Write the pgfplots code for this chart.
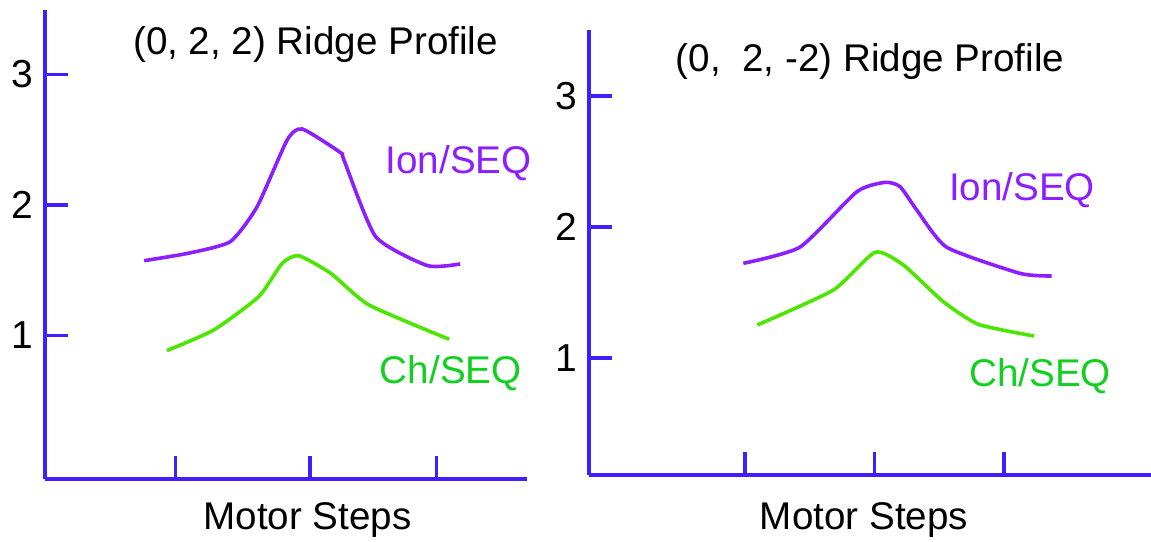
\documentclass[border=0pt]{standalone}
\usepackage{fontspec}
\setmainfont{Liberation Sans}
\usepackage{pgfplots}
\pgfplotsset{compat=1.18}

\definecolor{axblue}{HTML}{3F1FFF}
\definecolor{ionpurple}{HTML}{8C1EFF}
\definecolor{chgreen}{HTML}{4CE600}
\definecolor{chtext}{HTML}{10D020}

\pgfplotsset{ridge/.style={
    scale only axis, clip=false,
    axis x line=bottom, axis y line=left,
    axis line style={-, axblue, line width=2pt},
    tick style={axblue, line width=1.6pt},
    tick align=inside,
    major tick length=11.5pt,
    xticklabels={},
    ytick={1,2,3},
    /pgf/number format/assume math mode=true,
    yticklabel style={font=\fontsize{19.5}{23}\selectfont, inner sep=0pt, xshift=-5.5pt},
  },
  ion/.style={ionpurple, line width=1.8pt, smooth, tension=0.35},
  ch/.style={chgreen, line width=1.8pt, smooth, tension=0.35},
}
\newcommand{\bigtxt}{\fontsize{19.3}{23}\selectfont}

\begin{document}
\begin{tikzpicture}
\path[use as bounding box] (0,0) rectangle (575.5pt,270.5pt);

% left panel: (0, 2, 2)
\begin{axis}[ridge, at={(22.25pt,31pt)}, anchor=south west,
    width=241.25pt, height=234.5pt, xtick={1,2.03,3},
    xmin=0, xmax=3.69, ymin=-0.1, ymax=3.494]
  \addplot[ion] coordinates {
    (0.762,1.573) (1.10,1.630) (1.421,1.719) (1.626,1.987) (1.856,2.498)
    (1.971,2.582) (2.264,2.401) (2.290,2.345) (2.533,1.757)
    (2.929,1.535) (3.179,1.548)};
  \addplot[ch] coordinates {
    (0.936,0.884) (1.294,1.042) (1.638,1.297) (1.818,1.553) (1.945,1.611)
    (2.188,1.477) (2.481,1.234) (3.094,0.971)};
  \node[font=\bigtxt] at (axis cs:2.073,3.226) {(0, 2, 2) Ridge Profile};
  \node[font=\bigtxt, text=ionpurple] at (axis cs:3.168,2.322) {Ion/SEQ};
  \node[font=\bigtxt, text=chtext] at (axis cs:3.107,0.713) {Ch/SEQ};
  \node[font=\bigtxt] at (axis cs:2.011,-0.414) {Motor Steps};
\end{axis}

% right panel: (0, 2, -2)
\begin{axis}[ridge, at={(294.3pt,33pt)}, anchor=south west,
    width=281.2pt, height=222.25pt, xtick={1,2,3},
    xmin=-0.208, xmax=4.135, ymin=0.107, ymax=3.5]
  \addplot[ion] coordinates {
    (0.987,1.723) (1.425,1.847) (1.863,2.269) (2.081,2.341) (2.197,2.308)
    (2.326,2.130) (2.558,1.845) (3.124,1.646) (3.368,1.626)};
  \addplot[ch] coordinates {
    (1.095,1.252) (1.682,1.519) (2.004,1.807) (2.222,1.710)
    (2.531,1.430) (2.802,1.257) (3.232,1.168)};
  \node[font=\bigtxt] at (axis cs:1.965,3.260) {(0,\ \ 2, -2) Ridge Profile};
  \node[font=\bigtxt, text=ionpurple] at (axis cs:3.139,2.282) {Ion/SEQ};
  \node[font=\bigtxt, text=chtext] at (axis cs:3.278,0.863) {Ch/SEQ};
  \node[font=\bigtxt] at (axis cs:1.919,-0.237) {Motor Steps};
\end{axis}
\end{tikzpicture}
\end{document}
